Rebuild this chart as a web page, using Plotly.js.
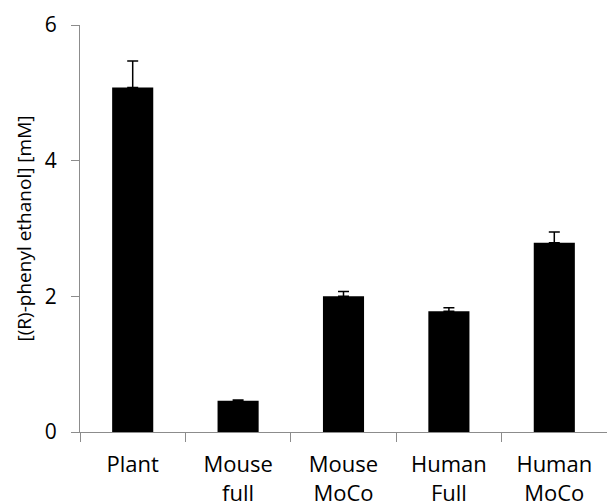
<!DOCTYPE html>
<html>
<head>
<meta charset="utf-8">
<script src="https://cdn.plot.ly/plotly-3.0.1.min.js"></script>
<style>html,body{margin:0;padding:0;background:#fff;}#chart{width:607px;height:504px;}</style>
</head>
<body>
<div id="chart"></div>
<script>
const categories = ["Plant", "Mouse<br>full", "Mouse<br>MoCo", "Human<br>Full", "Human<br>MoCo"];
const values = [5.08, 0.46, 2.00, 1.78, 2.79];
const errors = [0.39, 0.01, 0.07, 0.05, 0.16];
const yTicks = [0, 2, 4, 6];

const trace = {
  type: "bar",
  x: categories,
  y: values,
  width: 0.39,
  marker: {color: "#000000", line: {width: 0}},
  error_y: {type: "data", array: errors, arrayminus: errors.map(() => 0), symmetric: false,
            color: "#000000", thickness: 1.5, width: 5.5},
  hoverinfo: "none"
};

const layout = {
  width: 607, height: 504,
  margin: {l: 80, r: 0, t: 25, b: 72},
  paper_bgcolor: "#ffffff", plot_bgcolor: "#ffffff",
  showlegend: false,
  font: {family: "'Open Sans', sans-serif", color: "#000000", size: 20},
  xaxis: {
    type: "category",
    tickson: "boundaries",
    ticks: "outside", ticklen: 9, tickcolor: "#8c8c8c", tickwidth: 1,
    showline: true, linecolor: "#8c8c8c", linewidth: 1,
    showgrid: false, zeroline: false,
    tickfont: {size: 22},
    ticklabelstandoff: 13
  },
  yaxis: {
    range: [0, 6],
    tickvals: yTicks,
    ticktext: yTicks.map(String),
    ticks: "outside", ticklen: 8, tickcolor: "#8c8c8c", tickwidth: 1,
    showline: true, linecolor: "#8c8c8c", linewidth: 1,
    showgrid: false, zeroline: false,
    tickfont: {size: 21},
    ticklabelstandoff: 10,
    title: {text: "[(R)-phenyl ethanol] [mM]", font: {size: 19}, standoff: 8}
  }
};

Plotly.newPlot("chart", [trace], layout, {displayModeBar: false, staticPlot: true});
</script>
</body>
</html>
